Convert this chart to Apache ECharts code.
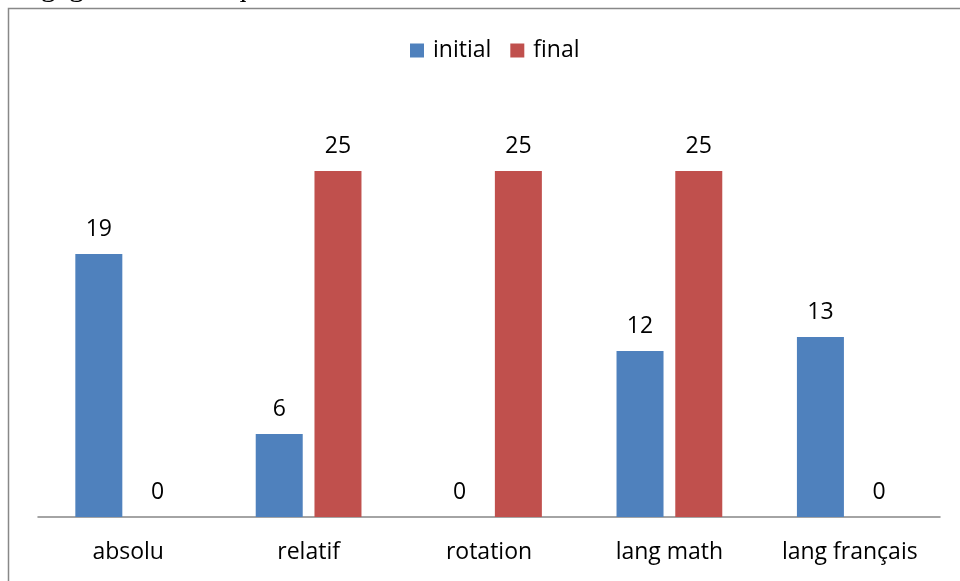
<!DOCTYPE html>
<html>
<head>
<meta charset="utf-8">
<script src="https://cdn.jsdelivr.net/npm/echarts@6/dist/echarts.min.js"></script>
<style>html,body{margin:0;padding:0;background:#fff;}#c{width:960px;height:581px;}</style>
</head>
<body>
<div id="c"></div>
<script>
const categories = ['absolu', 'relatif', 'rotation', 'lang math', 'lang français'];
const initialValues = [19, 6, 0, 12, 13];
const finalValues = [0, 25, 25, 25, 0];
const seriesNames = ['initial', 'final'];

const FONT = '"Open Sans", sans-serif';
const FS = 23;
const chart = echarts.init(document.getElementById('c'));
const labelCfg = { show: true, position: 'top', distance: 13, color: '#000', fontSize: FS, fontFamily: FONT };
chart.setOption({
  animation: false,
  backgroundColor: '#fff',
  graphic: [
    { type: 'rect', shape: { x: 8.5, y: 8.5, width: 1000, height: 700 }, style: { fill: 'none', stroke: '#888', lineWidth: 1.5 }, z: -1 },
    { type: 'text', left: 4, top: -27, style: { text: 'langage mathématique.', font: '30px "Liberation Serif", serif', fill: '#000' } }
  ],
  legend: {
    data: seriesNames,
    top: 34,
    left: 405,
    itemWidth: 14, itemHeight: 14, itemGap: 19,
    icon: 'rect',
    textStyle: { fontSize: FS, fontFamily: FONT, color: '#000', padding: [0, 0, 0, 4] }
  },
  grid: { left: 38, right: 20, top: 101.8, bottom: 64, containLabel: false },
  xAxis: {
    type: 'category',
    data: categories,
    axisLine: { lineStyle: { color: '#868686', width: 1.5 } },
    axisTick: { show: false },
    axisLabel: { color: '#000', fontSize: FS, fontFamily: FONT, margin: 24 }
  },
  yAxis: {
    type: 'value', min: 0, max: 30,
    show: false,
    splitLine: { show: false }
  },
  series: [
    { name: seriesNames[0], type: 'bar', data: initialValues, barWidth: 47, barGap: '25%', itemStyle: { color: '#4F81BD' }, label: labelCfg },
    { name: seriesNames[1], type: 'bar', data: finalValues, barWidth: 47, itemStyle: { color: '#C0504D' }, label: labelCfg }
  ]
});
</script>
</body>
</html>
